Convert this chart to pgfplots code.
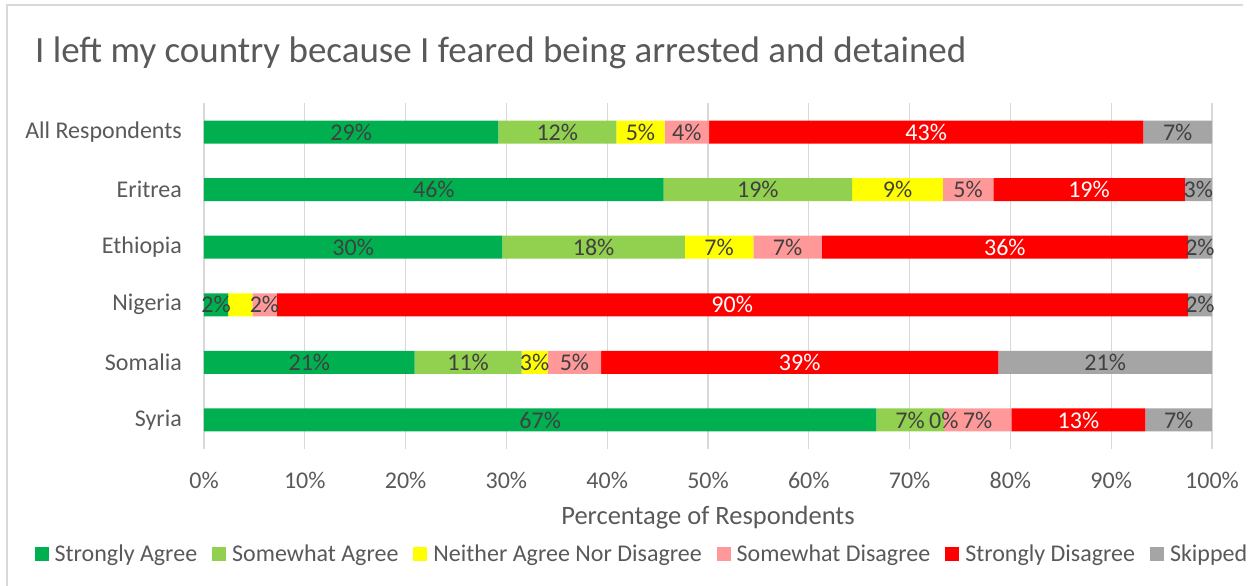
\documentclass[border=0pt]{standalone}
\usepackage{pgfplots}
\pgfplotsset{compat=1.18}
\usepackage{pgfplotstable}
\usepackage{fontspec}
\setmainfont{Carlito}
\definecolor{cSA}{HTML}{00B050}
\definecolor{cWA}{HTML}{92D050}
\definecolor{cNE}{HTML}{FFFF00}
\definecolor{cWD}{HTML}{FF9999}
\definecolor{cSD}{HTML}{FF0000}
\definecolor{cSK}{HTML}{A5A5A5}
\definecolor{txt}{HTML}{595959}
\definecolor{lbl}{HTML}{404040}
\definecolor{gridc}{HTML}{D9D9D9}

% y: 5=All Respondents, 4=Eritrea, 3=Ethiopia, 2=Nigeria, 1=Somalia, 0=Syria
% lab: value used for the data label (negative = label hidden)
\pgfplotstableread{
y val lab
5 29.2 29.2
4 45.6 45.6
3 29.6 29.6
2 2.4 2.4
1 20.9 20.9
0 66.7 66.7
}\tSA
\pgfplotstableread{
y val lab
5 11.7 11.7
4 18.7 18.7
3 18.1 18.1
2 0.0 -1
1 10.6 10.6
0 6.7 6.7
}\tWA
\pgfplotstableread{
y val lab
5 4.8 4.8
4 9.0 9.0
3 6.8 6.8
2 2.4 -1
1 2.6 2.6
0 0.001 0.0
}\tNE
\pgfplotstableread{
y val lab
5 4.4 4.4
4 5.0 5.0
3 6.8 6.8
2 2.4 2.4
1 5.3 5.3
0 6.7 6.7
}\tWD
\pgfplotstableread{
y val lab
5 43.1 43.1
4 19.0 19.0
3 36.3 36.3
2 90.4 90.4
1 39.4 39.4
0 13.3 13.3
}\tSD
\pgfplotstableread{
y val lab
5 6.8 6.8
4 2.7 2.7
3 2.4 2.4
2 2.4 2.4
1 21.2 21.2
0 6.59 6.6
}\tSK

\begin{document}
\begin{tikzpicture}
\useasboundingbox (0,0) rectangle (1253pt,586pt);
\draw[gridc, line width=1.5pt] (7pt,0) -- (7pt,581pt) -- (1243pt,581pt);
\node[anchor=base west, text=txt, font=\fontsize{37}{44}\selectfont, inner sep=0pt] at (35pt,523pt) {I left my country because I feared being arrested and detained};
\begin{axis}[
  at={(204pt,137.2pt)}, anchor=south west,
  width=1008pt, height=345.6pt, scale only axis,
  xbar stacked, bar width=23pt,
  xmin=0, xmax=100, ymin=-0.5, ymax=5.5,
  xtick={0,10,...,100},
  xticklabels={0\%,10\%,20\%,30\%,40\%,50\%,60\%,70\%,80\%,90\%,100\%},
  ytick={0,...,5},
  yticklabels={Syria,Somalia,Nigeria,Ethiopia,Eritrea,All Respondents},
  axis line style={draw=none}, major tick length=0pt,
  xmajorgrids, grid style={gridc, line width=1.3pt},
  tick label style={font=\fontsize{24}{28}\selectfont, text=txt, inner sep=0pt},
  yticklabel shift=22pt, xticklabel shift=23pt,
  xlabel={Percentage of Respondents},
  xlabel style={at={(axis description cs:0.5,-0.2)}, anchor=center, font=\fontsize{26.5}{30}\selectfont, text=txt},
  /pgf/number format/assume math mode=true,
  point meta=explicit symbolic,
  nodes near coords={\ifdim\pgfplotspointmeta pt<0pt\else\pgfmathprintnumber[fixed,precision=0]{\pgfplotspointmeta}\%\fi},
  nodes near coords style={font=\fontsize{24}{28}\selectfont, text=lbl, anchor=center, inner sep=0pt},
  legend columns=-1,
  legend style={at={(axis description cs:0.4345,-0.304)}, anchor=center, draw=none, fill=none,
    font=\fontsize{24}{28}\selectfont, text=txt,
    /tikz/every odd column/.append style={column sep=4pt},
    /tikz/every even column/.append style={column sep=13pt}},
  legend image code/.code={\fill[#1] (0pt,-7pt) rectangle (14pt,7pt);},
]
\addplot[fill=cSA, draw=none] table[x=val, y=y, meta=lab]{\tSA};
\addplot[fill=cWA, draw=none] table[x=val, y=y, meta=lab]{\tWA};
\addplot[fill=cNE, draw=none] table[x=val, y=y, meta=lab]{\tNE};
\addplot[fill=cWD, draw=none] table[x=val, y=y, meta=lab]{\tWD};
\addplot[fill=cSD, draw=none, every node near coord/.append style={text=white}] table[x=val, y=y, meta=lab]{\tSD};
\addplot[fill=cSK, draw=none] table[x=val, y=y, meta=lab]{\tSK};
\legend{Strongly Agree, Somewhat Agree, Neither Agree Nor Disagree, Somewhat Disagree, Strongly Disagree, Skipped}
\end{axis}
\end{tikzpicture}
\end{document}
